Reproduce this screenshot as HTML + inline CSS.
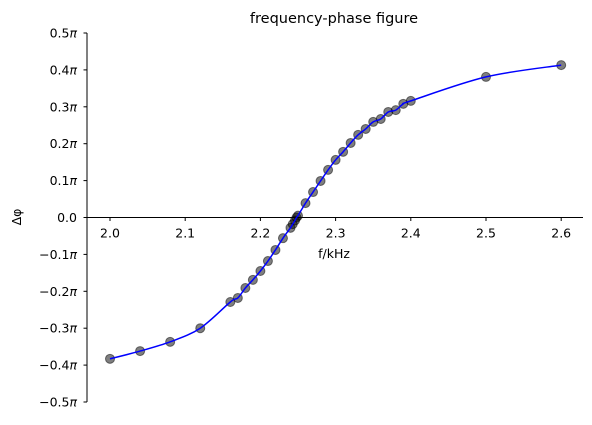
<!DOCTYPE html>
<html><head><meta charset="utf-8"><style>
body{margin:0;background:#fff;}
svg text{font-family:"DejaVu Sans","Liberation Sans",sans-serif;fill:#000;}
</style></head><body>
<svg id="chart" width="592" height="420"></svg>
<script>
const freqs=[2.00,2.04,2.08,2.12,2.16,2.17,2.18,2.19,2.20,2.21,2.22,2.23,2.24,2.243,2.246,2.248,2.25,2.26,2.27,2.28,2.29,2.30,2.31,2.32,2.33,2.34,2.35,2.36,2.37,2.38,2.39,2.40,2.50,2.60];
const phases=[-0.383,-0.362,-0.337,-0.300,-0.229,-0.218,-0.191,-0.169,-0.145,-0.118,-0.088,-0.056,-0.028,-0.018,-0.008,0.0,0.005,0.039,0.069,0.099,0.129,0.156,0.178,0.202,0.224,0.240,0.259,0.267,0.286,0.291,0.308,0.316,0.381,0.413];
const xTicks=[2.0,2.1,2.2,2.3,2.4,2.5,2.6];
const yTicks=[-0.5,-0.4,-0.3,-0.2,-0.1,0,0.1,0.2,0.3,0.4,0.5];
const NS="http://www.w3.org/2000/svg";
const svg=document.getElementById('chart');
const X=v=>110+(v-2.0)*752;
const Y=v=>217.5-v*369;
function el(t,a,txt){const e=document.createElementNS(NS,t);for(const k in a)e.setAttribute(k,a[k]);if(txt!==undefined)e.textContent=txt;svg.appendChild(e);return e;}
let e;
e=el('text',{x:334,y:23,'text-anchor':'middle','font-size':14.5},'frequency-phase figure');


e=el('line',{x1:87,y1:Y(0.5),x2:87,y2:Y(-0.5),stroke:'#000','stroke-width':1});


e=el('line',{x1:87,y1:Y(0),x2:583,y2:Y(0),stroke:'#000','stroke-width':1});


yTicks.forEach(v=>{
  const y=Y(v);
  e=el('line',{x1:83.5,y1:y,x2:87,y2:y,stroke:'#000'});
  
  
  const lbl=(v===0?'0.0':(v<0?'\u2212':'')+Math.abs(v).toFixed(1));
  e=el('text',{x:77,y:y+4.5,'text-anchor':'end','font-size':12.5});
  
  
  e.appendChild(document.createTextNode(lbl));
  if(v!==0){const ts=document.createElementNS(NS,'tspan');ts.setAttribute('font-style','italic');ts.textContent='\u03c0';e.appendChild(ts);}
});
xTicks.forEach(v=>{
  const x=X(v);
  e=el('line',{x1:x,y1:Y(0),x2:x,y2:Y(0)+3.5,stroke:'#000'});
  
  
  e=el('text',{x:x,y:Y(0)+20,'text-anchor':'middle','font-size':12.5},v.toFixed(1));
  
  
});
e=el('text',{x:334,y:258,'text-anchor':'middle','font-size':12.5},'f/kHz');


e=el('text',{x:0,y:0,'text-anchor':'middle','font-size':12.5,transform:'translate(21,217) rotate(-90)'},'\u0394\u03c6');


freqs.forEach((f,i)=>{
  e=el('circle',{cx:X(f),cy:Y(phases[i]),r:4.5,fill:'rgba(0,0,0,0.5)',stroke:'rgba(0,0,0,0.5)','stroke-width':1});
  
  
});
const pts=freqs.map((f,i)=>[X(f),Y(phases[i])]);
let d='M'+pts[0][0]+','+pts[0][1];
for(let i=0;i<pts.length-1;i++){
  const p0=pts[Math.max(0,i-1)],p1=pts[i],p2=pts[i+1],p3=pts[Math.min(pts.length-1,i+2)];
  const c1=[p1[0]+(p2[0]-p0[0])/6,p1[1]+(p2[1]-p0[1])/6];
  const c2=[p2[0]-(p3[0]-p1[0])/6,p2[1]-(p3[1]-p1[1])/6];
  d+=` C${c1[0]},${c1[1]} ${c2[0]},${c2[1]} ${p2[0]},${p2[1]}`;
}
e=el('path',{d:d,fill:'none',stroke:'#0000ff','stroke-width':1.5});


</script>
</body></html>
